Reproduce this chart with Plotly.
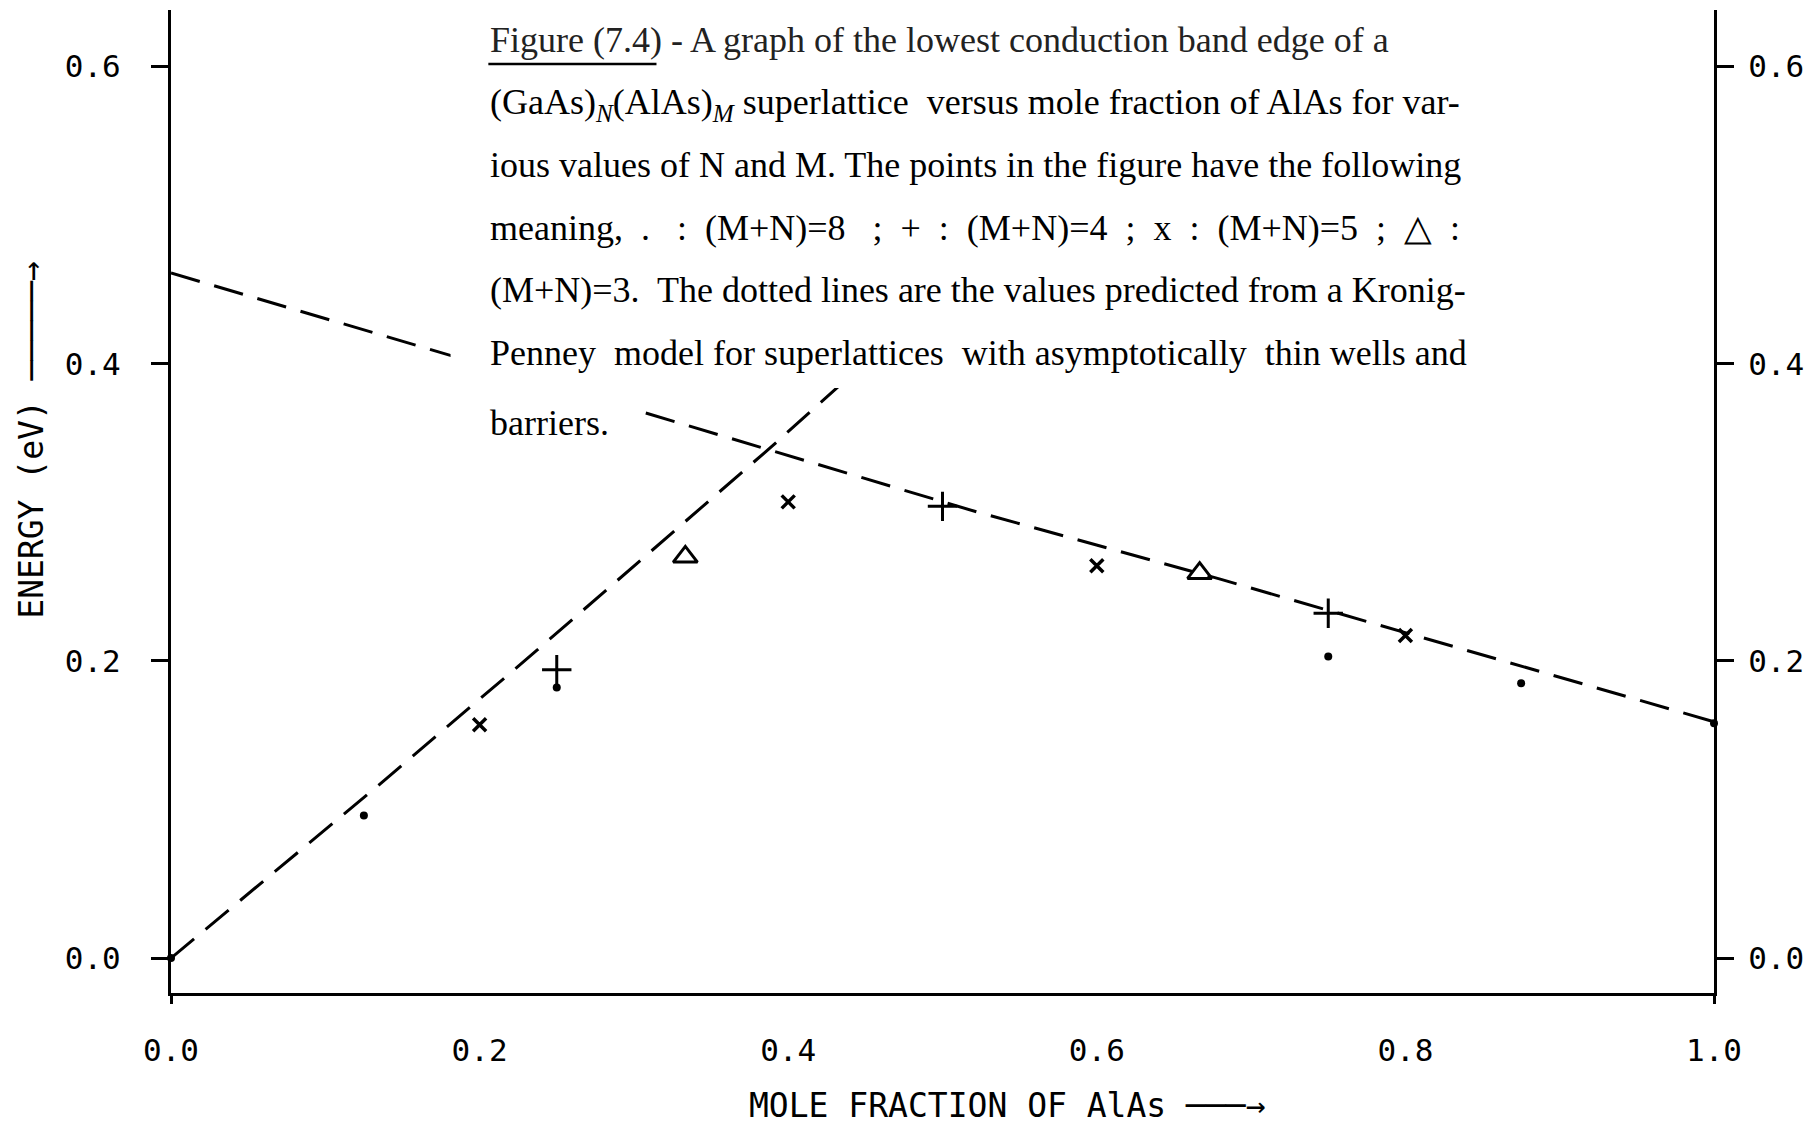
import plotly.graph_objects as go

# ---- data ----
kp_rise_x = [0.0, 0.133, 0.237, 0.389, 0.433]
kp_rise_y = [0.0, 0.115, 0.207, 0.344, 0.385]

kp_fall_x = [0.0, 0.179, 0.307, 0.523, 0.680, 1.0]
kp_fall_y = [0.461, 0.406, 0.367, 0.300, 0.255, 0.159]

dot8_x = [0.0, 0.125, 0.25, 0.75, 0.875, 1.0]
dot8_y = [0.0, 0.096, 0.182, 0.203, 0.185, 0.158]

plus4_x = [0.25, 0.5, 0.75]
plus4_y = [0.194, 0.304, 0.232]

x5_x = [0.2, 0.4, 0.6, 0.8]
x5_y = [0.157, 0.307, 0.264, 0.217]

tri3_x = [1 / 3, 2 / 3]
tri3_y = [0.270, 0.259]

x_ticks = [0.0, 0.2, 0.4, 0.6, 0.8, 1.0]
x_tick_labels = ["0.0", "0.2", "0.4", "0.6", "0.8", "1.0"]
y_ticks = [0.0, 0.2, 0.4, 0.6]
y_tick_labels = ["0.0", "0.2", "0.4", "0.6"]

NB = "\u00a0"
caption_lines = [
    "Figure (7.4) - A graph of the lowest conduction band edge of a",
    "(GaAs)<sub><i>N</i></sub>(AlAs)<sub><i>M</i></sub> superlattice" + NB
    + " versus mole fraction of AlAs for var-",
    "ious values of N and M. The points in the figure have the following",
    "meaning," + NB * 2 + "." + NB * 3 + ":" + NB * 2 + "(M+N)=8" + NB * 3 + ";" + NB * 2 + "+"
    + NB * 2 + ":" + NB * 2 + "(M+N)=4" + NB * 2 + ";" + NB * 2 + "x" + NB * 2 + ":" + NB * 2
    + "(M+N)=5" + NB * 2 + ";" + NB * 2 + "\u25b3" + NB * 2 + ":",
    "(M+N)=3." + NB + " The dotted lines are the values predicted from a Kronig-",
    "Penney" + NB + " model for superlattices" + NB + " with asymptotically" + NB
    + " thin wells and",
    "barriers.",
]
caption_y_px = [40, 104, 165, 228, 290, 353, 423]

x_title = "MOLE FRACTION OF AlAs \u2500\u2500\u2500\u2192"
y_title = "ENERGY (eV) \u2500\u2500\u2500\u2500\u2500\u2192"

# ---- geometry (page pixels; the page body has an 8px margin) ----
OFF = 8
W, H = 1814 - 2 * OFF, 1134 - 2 * OFF
ML, MR, MT, MB = 163, 84, 2, 133
PW = W - ML - MR
PH = H - MT - MB
YR = [-0.0235, 0.638]


def px_x(p):
    return (p - OFF - ML) / PW


def px_y(p):
    return (H - MB - (p - OFF)) / PH


fig = go.Figure()

dash = "30px,15px"
fig.add_trace(go.Scatter(x=kp_rise_x, y=kp_rise_y, mode="lines",
                         line=dict(color="black", width=3, dash=dash),
                         cliponaxis=False, showlegend=False))
fig.add_trace(go.Scatter(x=kp_fall_x, y=kp_fall_y, mode="lines",
                         line=dict(color="black", width=3, dash=dash),
                         cliponaxis=False, showlegend=False))

fig.add_trace(go.Scatter(x=dot8_x, y=dot8_y, mode="markers",
                         marker=dict(symbol="circle", size=8, color="black"),
                         cliponaxis=False, showlegend=False))
fig.add_trace(go.Scatter(x=plus4_x, y=plus4_y, mode="markers",
                         marker=dict(symbol="cross-thin-open", size=21, color="black",
                                     line=dict(color="black", width=3)),
                         cliponaxis=False, showlegend=False))
fig.add_trace(go.Scatter(x=x5_x, y=x5_y, mode="markers",
                         marker=dict(symbol="x-thin-open", size=13, color="black",
                                     line=dict(color="black", width=3.5)),
                         cliponaxis=False, showlegend=False))
fig.add_trace(go.Scatter(x=tri3_x, y=tri3_y, mode="markers",
                         marker=dict(symbol="triangle-up-open", size=21,
                                     color="black",
                                     line=dict(color="black", width=3)),
                         cliponaxis=False, showlegend=False))

# white paper pasted over the plot where the caption sits
fig.add_shape(type="rect", xref="paper", yref="paper",
              x0=px_x(452), x1=px_x(1492), y0=px_y(388), y1=px_y(-5),
              fillcolor="white", line=dict(width=0), layer="above")
fig.add_shape(type="rect", xref="paper", yref="paper",
              x0=px_x(452), x1=px_x(640), y0=px_y(445), y1=px_y(388),
              fillcolor="white", line=dict(width=0), layer="above")

cap_font = dict(family="Liberation Serif", size=36, color="black")
for i, (t, yp) in enumerate(zip(caption_lines, caption_y_px)):
    f = dict(cap_font)
    if i == 0:
        f["color"] = "#222"
    fig.add_annotation(text=t, xref="paper", yref="paper",
                       x=px_x(490), y=px_y(yp), xanchor="left", yanchor="middle",
                       showarrow=False, font=f)

# underline of "Figure (7.4)"
fig.add_shape(type="line", xref="paper", yref="paper",
              x0=px_x(490), x1=px_x(659), y0=px_y(64), y1=px_y(64),
              line=dict(color="black", width=2.5), layer="above")

tick_font = dict(family="DejaVu Sans Mono", size=31, color="black")

fig.add_annotation(text=x_title, xref="paper", yref="paper",
                   x=px_x(1012), y=px_y(1105), xanchor="center", yanchor="middle",
                   showarrow=False,
                   font=dict(family="DejaVu Sans Mono", size=33, color="black"))
fig.add_annotation(text=y_title, xref="paper", yref="paper",
                   x=px_x(30), y=px_y(440), xanchor="center", yanchor="middle",
                   textangle=-90, showarrow=False,
                   font=dict(family="DejaVu Sans Mono", size=33, color="black"))

fig.update_layout(
    width=W, height=H,
    margin=dict(l=ML, r=MR, t=MT, b=MB, pad=0),
    paper_bgcolor="white", plot_bgcolor="white",
    showlegend=False,
    xaxis=dict(range=[0, 1], showgrid=False, zeroline=False,
               showline=True, linecolor="black", linewidth=3,
               tickvals=x_ticks, ticktext=x_tick_labels, ticks="",
               tickfont=tick_font, ticklabelstandoff=28),
    xaxis2=dict(range=[0, 1], overlaying="x", anchor="y", side="bottom",
                showgrid=False, zeroline=False, showline=False,
                tickvals=[0, 1], ticks="outside", ticklen=10, tickwidth=3,
                tickcolor="black", showticklabels=False),
    yaxis=dict(range=YR, showgrid=False, zeroline=False,
               showline=True, linecolor="black", linewidth=3,
               tickvals=y_ticks, ticktext=y_tick_labels,
               ticks="outside", ticklen=17, tickwidth=3, tickcolor="black",
               tickfont=tick_font, ticklabelstandoff=24),
    yaxis2=dict(range=YR, overlaying="y", anchor="x", side="right",
                showgrid=False, zeroline=False,
                showline=True, linecolor="black", linewidth=3,
                tickvals=y_ticks, ticktext=y_tick_labels,
                ticks="outside", ticklen=17, tickwidth=3, tickcolor="black",
                tickfont=tick_font, ticklabelstandoff=8),
)

# invisible trace to activate the secondary axes
fig.add_trace(go.Scatter(x=[0], y=[0], xaxis="x2", yaxis="y2", mode="markers",
                         marker=dict(opacity=0), hoverinfo="skip",
                         showlegend=False))

fig.write_html("out.html")
